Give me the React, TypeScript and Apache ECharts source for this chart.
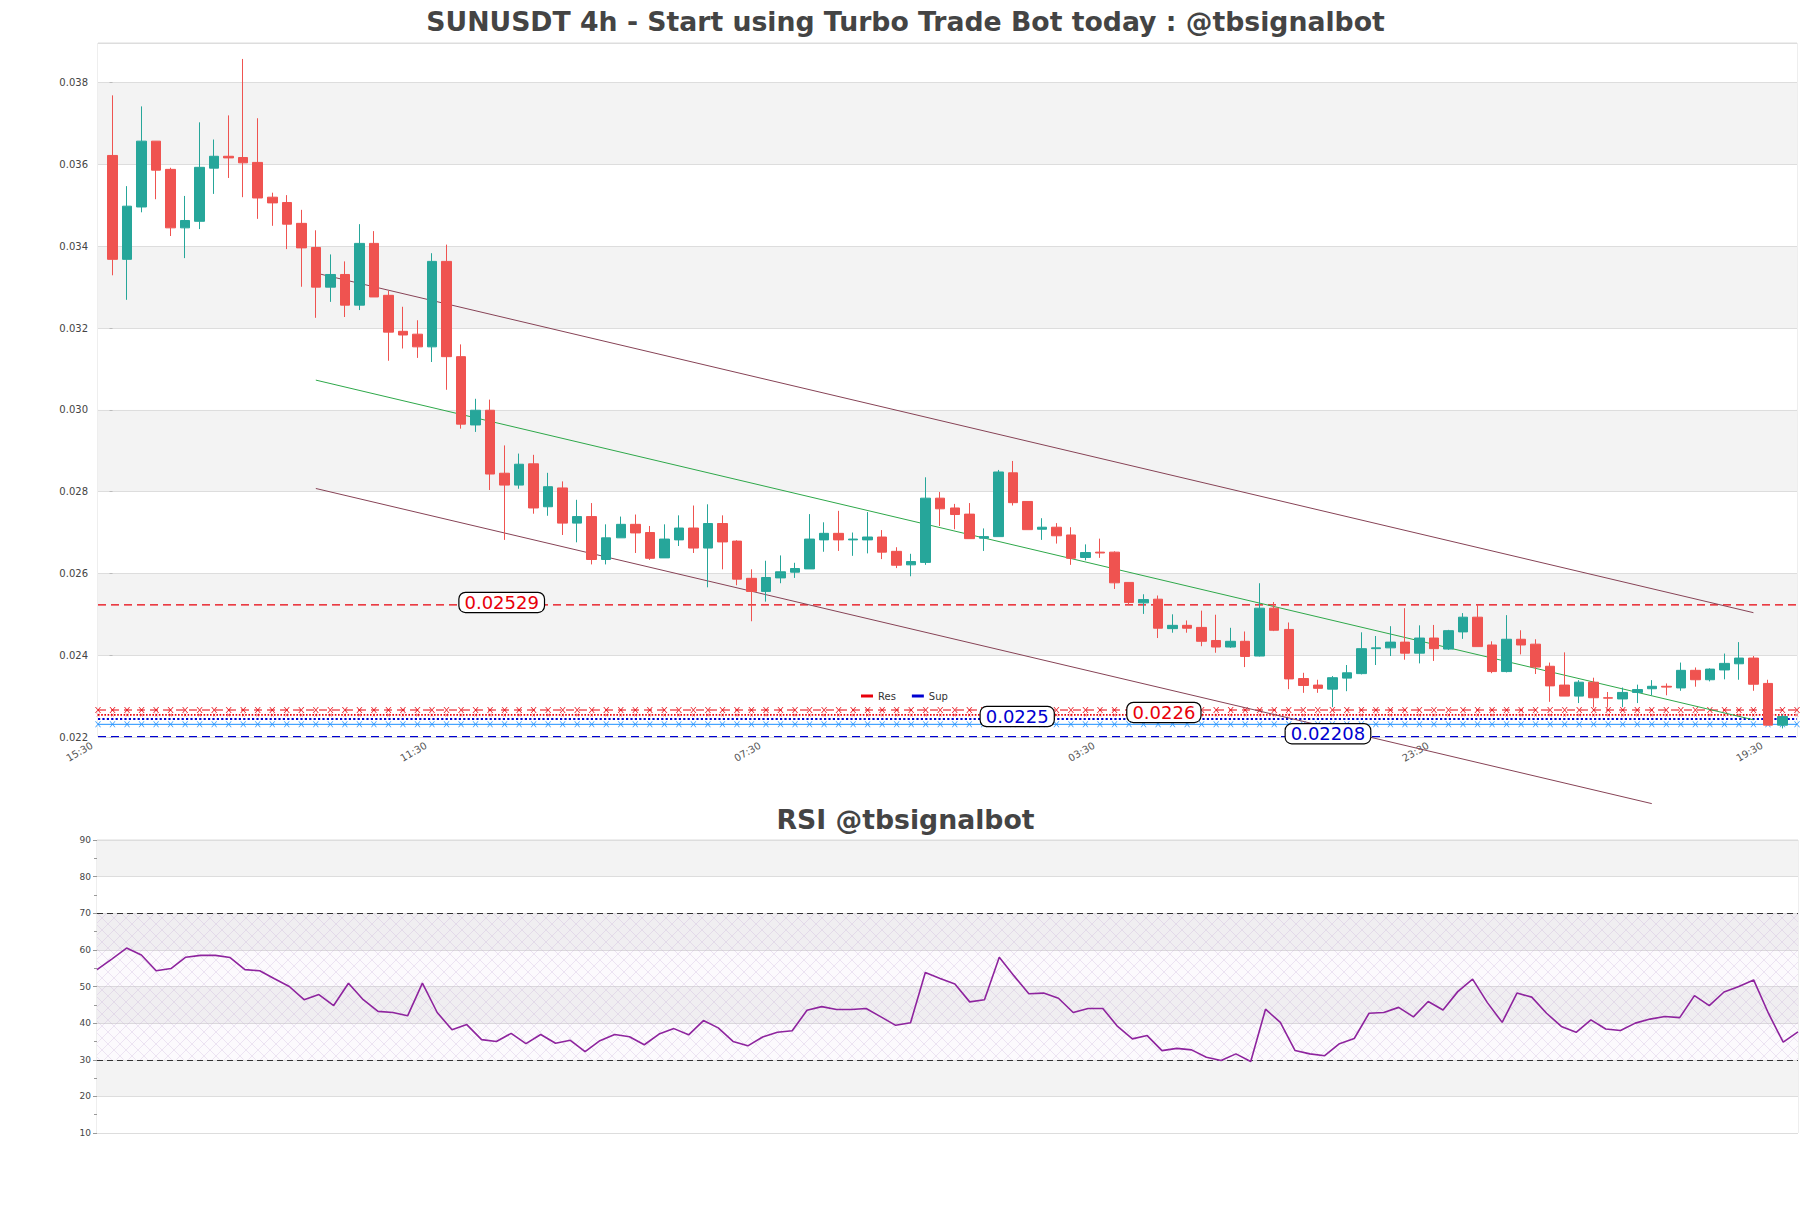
import React, { useEffect, useRef } from 'react';
import * as echarts from 'echarts';

const FONT = 'DejaVu Sans';

// ---- candle data (4h candles, index 0..115) ----
const opens = [
  0.03622, 0.03368, 0.03496, 0.03657, 0.03588, 0.03445, 0.03461, 0.03591, 0.0362, 0.03617,
  0.03605, 0.0352, 0.03507, 0.03456, 0.03397, 0.033, 0.03331, 0.03256, 0.03407, 0.0328,
  0.03192, 0.03185, 0.03154, 0.03363, 0.0313, 0.02963, 0.02999, 0.02845, 0.02816, 0.02868,
  0.02763, 0.02809, 0.02723, 0.02739, 0.02634, 0.02687, 0.0272, 0.027, 0.02638, 0.02682,
  0.02711, 0.02662, 0.02722, 0.02679, 0.02588, 0.02556, 0.02589, 0.02603, 0.02611, 0.02682,
  0.02698, 0.02682, 0.02682, 0.02689, 0.02654, 0.02621, 0.02627, 0.02784, 0.0276, 0.02745,
  0.02686, 0.0269, 0.02846, 0.02776, 0.02708, 0.02713, 0.02694, 0.02639, 0.02652, 0.02652,
  0.02578, 0.02528, 0.02537, 0.02465, 0.02473, 0.02468, 0.02436, 0.0242, 0.02434, 0.02398,
  0.02515, 0.02463, 0.02343, 0.02327, 0.02317, 0.02344, 0.02355, 0.02416, 0.02418, 0.02432,
  0.02405, 0.02442, 0.02415, 0.02457, 0.02493, 0.02425, 0.0236, 0.02439, 0.02427, 0.02373,
  0.02327, 0.023, 0.02334, 0.02296, 0.02293, 0.02309, 0.02318, 0.02324, 0.0232, 0.02363,
  0.0234, 0.02364, 0.02379, 0.02393, 0.02331, 0.02229,
];
const closes = [
  0.03368, 0.03498, 0.03657, 0.03586, 0.03445, 0.03463, 0.03593, 0.0362, 0.03616, 0.03604,
  0.03518, 0.03506, 0.03454, 0.03396, 0.033, 0.03331, 0.03256, 0.03407, 0.03276, 0.0319,
  0.03183, 0.03154, 0.03363, 0.0313, 0.02965, 0.02999, 0.02843, 0.02816, 0.02867, 0.0276,
  0.02812, 0.02723, 0.02739, 0.02634, 0.02687, 0.0272, 0.02699, 0.02637, 0.02684, 0.02711,
  0.02662, 0.02722, 0.02677, 0.02586, 0.02556, 0.0259, 0.02604, 0.02612, 0.02684, 0.02698,
  0.02682, 0.02684, 0.02689, 0.02652, 0.0262, 0.02629, 0.02784, 0.02758, 0.02744, 0.02685,
  0.0269, 0.02848, 0.02773, 0.02707, 0.02713, 0.02692, 0.02637, 0.02651, 0.0265, 0.02577,
  0.02529, 0.02536, 0.02466, 0.02473, 0.02466, 0.02434, 0.0242, 0.02434, 0.02397, 0.02515,
  0.02461, 0.02342, 0.02326, 0.02319, 0.02345, 0.02357, 0.02416, 0.02418, 0.02432, 0.02405,
  0.02442, 0.02416, 0.0246, 0.02493, 0.02421, 0.0236, 0.02439, 0.02425, 0.02371, 0.02325,
  0.023, 0.02334, 0.02296, 0.02295, 0.02309, 0.02316, 0.02324, 0.02322, 0.02363, 0.0234,
  0.02366, 0.0238, 0.02393, 0.02329, 0.02229, 0.0225,
];
const lows = [
  0.03329, 0.03269, 0.03483, 0.03515, 0.03425, 0.03371, 0.03442, 0.03528, 0.03567, 0.0352,
  0.03467, 0.0345, 0.03393, 0.03301, 0.03225, 0.03264, 0.03227, 0.03244, 0.03276, 0.0312,
  0.0315, 0.03127, 0.03117, 0.03049, 0.02954, 0.02946, 0.02804, 0.02682, 0.02807, 0.02746,
  0.02741, 0.02694, 0.02676, 0.02622, 0.02622, 0.02687, 0.0265, 0.02633, 0.02638, 0.02667,
  0.0265, 0.02566, 0.0261, 0.02571, 0.02483, 0.02531, 0.02576, 0.02589, 0.02611, 0.02653,
  0.02655, 0.02643, 0.02649, 0.02635, 0.02613, 0.02593, 0.02621, 0.02716, 0.02708, 0.02685,
  0.02655, 0.0269, 0.02766, 0.02707, 0.02682, 0.02673, 0.02621, 0.02632, 0.02638, 0.02562,
  0.02523, 0.02501, 0.02442, 0.02455, 0.02455, 0.02422, 0.02406, 0.02418, 0.02371, 0.02397,
  0.02459, 0.02317, 0.02308, 0.02308, 0.02273, 0.02312, 0.02353, 0.02376, 0.02398, 0.02389,
  0.0238, 0.02386, 0.02413, 0.0244, 0.02421, 0.02356, 0.02358, 0.02402, 0.02354, 0.02286,
  0.023, 0.02283, 0.02272, 0.02272, 0.02273, 0.02283, 0.02302, 0.02302, 0.02313, 0.02323,
  0.02336, 0.02341, 0.0234, 0.02313, 0.02229, 0.02221,
];
const highs = [
  0.03769, 0.03547, 0.03742, 0.03657, 0.03592, 0.03523, 0.03703, 0.03661, 0.0372, 0.03858,
  0.03713, 0.03531, 0.03525, 0.03489, 0.03439, 0.0338, 0.03363, 0.03454, 0.03437, 0.03291,
  0.03252, 0.03219, 0.03383, 0.03404, 0.0316, 0.03027, 0.03025, 0.02913, 0.02893, 0.0289,
  0.02846, 0.02825, 0.0278, 0.02772, 0.0272, 0.02739, 0.02744, 0.02716, 0.0272, 0.02742,
  0.02766, 0.02769, 0.02742, 0.02681, 0.0261, 0.02631, 0.02644, 0.02626, 0.02745, 0.02725,
  0.02753, 0.027, 0.0275, 0.02706, 0.02664, 0.02648, 0.02835, 0.02799, 0.0277, 0.02772,
  0.0271, 0.02853, 0.02875, 0.02776, 0.02735, 0.02723, 0.02713, 0.02671, 0.02685, 0.02654,
  0.02578, 0.02549, 0.02546, 0.025, 0.02485, 0.02509, 0.02499, 0.02467, 0.02458, 0.02576,
  0.0253, 0.0248, 0.02357, 0.0234, 0.02349, 0.02376, 0.02456, 0.02447, 0.02471, 0.02515,
  0.02473, 0.02474, 0.02462, 0.02503, 0.02524, 0.02434, 0.02498, 0.02461, 0.02439, 0.02382,
  0.02407, 0.02339, 0.02345, 0.0231, 0.02321, 0.02328, 0.02339, 0.02331, 0.02382, 0.0237,
  0.02368, 0.02404, 0.02432, 0.02398, 0.0234, 0.02255,
];

// ---- RSI values (one per candle) ----
const rsi = [
  54.6, 57.5, 60.5, 58.6, 54.3, 54.9, 58.0, 58.5, 58.5, 57.9,
  54.6, 54.3, 52.1, 50.0, 46.4, 47.8, 44.8, 50.9, 46.4, 43.2,
  42.9, 42.0, 50.9, 42.9, 38.2, 39.6, 35.5, 35.0, 37.2, 34.4,
  36.9, 34.5, 35.3, 32.2, 35.2, 36.9, 36.3, 34.1, 37.0, 38.5,
  36.8, 40.7, 38.7, 35.0, 33.8, 36.2, 37.5, 37.9, 43.5, 44.5,
  43.7, 43.7, 44.0, 41.7, 39.4, 40.1, 53.8, 52.2, 50.7, 45.8,
  46.4, 58.0, 52.9, 48.0, 48.2, 46.8, 42.9, 44.0, 44.0, 39.1,
  35.7, 36.6, 32.5, 33.1, 32.7, 30.7, 29.8, 31.6, 29.5, 43.8,
  40.2, 32.5, 31.6, 31.1, 34.4, 35.8, 42.7, 42.9, 44.3, 41.7,
  45.9, 43.6, 48.6, 52.0, 45.6, 40.2, 48.2, 47.1, 42.7, 39.1,
  37.5, 40.9, 38.4, 38.0, 40.0, 41.1, 41.8, 41.5, 47.5, 44.8,
  48.5, 50.0, 51.8, 42.7, 34.8, 37.6,
];

// ---- x ticks (axis spans candle index -1 .. 116) ----
const xTickLabels = ['15:30', '11:30', '07:30', '03:30', '23:30', '19:30'];
const xTickCandleIdx = [-1, 22, 45, 68, 91, 114];

// ---- trend channel (candle index, price) ----
const channelUpper = [[14, 0.033345], [113, 0.02504]];
const channelMid = [[14, 0.030727], [113, 0.02242]];
const channelLower = [[14, 0.028077], [106, 0.020371]];

// ---- support / resistance levels (as drawn) ----
const resMain = 0.02523;
const resNear = [0.02266, 0.02254];
const supNear = [0.02244, 0.02231];
const supMain = 0.02201;
const levelLabels = [
  { text: '0.02529', value: 0.02529, at: 26.8, kind: 'res' },
  { text: '0.0225', value: 0.0225, at: 62.3, kind: 'sup' },
  { text: '0.0226', value: 0.0226, at: 72.4, kind: 'res' },
  { text: '0.02208', value: 0.02208, at: 83.7, kind: 'sup' },
];

const RED = '#e8000b';
const BLUE = '#0000d0';
const LIGHTBLUE = '#1e90ff';
const UP = '#26a69a';
const DOWN = '#ef5350';

const N = opens.length;
const FIRST = -1;
const LAST = N; // 116
const catCount = LAST - FIRST + 1; // 118
const categories = Array.from({ length: catCount }, (_, p) => {
  const h = (15 + 4 * p) % 24;
  return `${String(h).padStart(2, '0')}:30`;
});
const tickCats = xTickCandleIdx.map((i) => i - FIRST);

const xMarker = 'path://M0,0L1.6,0L5,4.2L8.4,0L10,0L5.9,5L10,10L8.4,10L5,5.8L1.6,10L0,10L4.1,5Z';

function levelSeries(name: string, level: number, color: string, opts: any = {}) {
  const pts: number[][] = [];
  if (opts.markers) {
    pts.push([FIRST, level]);
    for (let i = 0; i < N; i++) pts.push([i, level]);
    pts.push([LAST, level]);
  } else {
    pts.push([FIRST, level], [LAST, level]);
  }
  return {
    name,
    type: 'line',
    xAxisIndex: 1,
    yAxisIndex: 0,
    data: pts,
    color,
    silent: true,
    symbol: opts.markers ? opts.symbol || xMarker : 'none',
    symbolSize: opts.symbolSize || 6,
    showAllSymbol: true,
    itemStyle: { color, opacity: opts.markerOpacity == null ? 1 : opts.markerOpacity },
    lineStyle: { color, width: opts.width || 1.2, type: opts.type || 'solid' },
    z: opts.z || 3,
  };
}

export default function App() {
  const ref = useRef<HTMLDivElement>(null);

  useEffect(() => {
    document.body.style.margin = '0';
    if (!ref.current) return;
    const chart = echarts.init(ref.current, undefined, { renderer: 'svg' });

    // hatch pattern for RSI 30..70 band
    const pc = document.createElement('canvas');
    pc.width = 12;
    pc.height = 12;
    const ctx = pc.getContext('2d');
    if (ctx) {
      ctx.fillStyle = 'rgba(150,100,190,0.03)';
      ctx.fillRect(0, 0, 12, 12);
      ctx.strokeStyle = 'rgba(190,160,210,0.45)';
      ctx.lineWidth = 0.6;
      ctx.beginPath();
      ctx.moveTo(0, 0);
      ctx.lineTo(12, 12);
      ctx.moveTo(12, 0);
      ctx.lineTo(0, 12);
      ctx.stroke();
    }
    const hatch = { image: pc.toDataURL(), repeat: 'repeat', imageWidth: 12, imageHeight: 12 };

    const candleRows = opens.map((o, i) => [i - FIRST, o, closes[i], lows[i], highs[i]]);

    const labelPoints = levelLabels.map((l) => ({
      coord: [l.at, l.value],
      label: {
        show: true,
        formatter: l.text,
        color: l.kind === 'res' ? RED : BLUE,
        fontSize: 18,
        fontFamily: FONT,
        backgroundColor: '#ffffff',
        borderColor: '#000000',
        borderWidth: 1.2,
        borderRadius: 6,
        padding: [0, 5],
        lineHeight: 19,
        position: 'inside',
      },
    }));

    const titleStyle = { fontSize: 26.7, fontWeight: 'bold', color: '#444', fontFamily: FONT };

    const option: any = {
      animation: false,
      backgroundColor: '#ffffff',
      textStyle: { fontFamily: FONT },
      title: [
        {
          text: 'SUNUSDT 4h - Start using Turbo Trade Bot today : @tbsignalbot',
          left: 'center',
          top: 8,
          padding: 0,
          textStyle: titleStyle,
        },
        {
          text: 'RSI @tbsignalbot',
          left: 'center',
          top: 806,
          padding: 0,
          textStyle: titleStyle,
        },
      ],
      legend: {
        data: ['Res', 'Sup'],
        left: 856,
        top: 686,
        icon: 'rect',
        itemWidth: 12,
        itemHeight: 3,
        itemGap: 16,
        textStyle: { fontSize: 10, color: '#333', fontFamily: FONT },
      },
      grid: [
        { left: 98, top: 43, width: 1699, height: 694, show: true, borderColor: '#dddddd', borderWidth: 1, backgroundColor: 'transparent' },
        { left: 97, top: 840, width: 1701, height: 293, show: true, borderColor: '#dddddd', borderWidth: 1, backgroundColor: 'transparent' },
      ],
      xAxis: [
        {
          type: 'category',
          gridIndex: 0,
          data: categories,
          boundaryGap: false,
          axisLine: { show: false },
          axisTick: { show: false },
          splitLine: { show: false },
          axisLabel: {
            interval: (i: number) => tickCats.includes(i),
            formatter: (v: string, i: number) => {
              const k = tickCats.indexOf(i);
              return k >= 0 ? xTickLabels[k] : v;
            },
            rotate: 30,
            fontSize: 10,
            color: '#555',
            fontFamily: FONT,
            margin: 4,
            padding: [0, 7, 0, 0],
          },
        },
        { type: 'value', gridIndex: 0, min: FIRST, max: LAST, show: false },
        {
          type: 'category',
          gridIndex: 1,
          data: rsi.map((_, i) => String(i)),
          boundaryGap: false,
          show: false,
        },
      ],
      yAxis: [
        {
          type: 'value',
          gridIndex: 0,
          min: 0.022,
          max: 0.03897,
          interval: 0.002,
          axisLine: { show: false },
          axisTick: { show: true, length: 3, lineStyle: { color: '#bbb' } },
          axisLabel: {
            formatter: (v: number) => v.toFixed(3),
            fontSize: 10,
            color: '#444',
            fontFamily: FONT,
            showMaxLabel: false,
            margin: 10,
          },
          splitLine: { lineStyle: { color: '#dddddd', width: 1 } },
          splitArea: { show: true, areaStyle: { color: ['#ffffff', '#f3f3f3'] } },
        },
        {
          type: 'value',
          gridIndex: 1,
          min: 10,
          max: 90,
          interval: 10,
          axisLine: { show: false },
          axisTick: { show: true, length: 4, lineStyle: { color: '#999' } },
          minorTick: { show: true, splitNumber: 2, length: 3, lineStyle: { color: '#999' } },
          axisLabel: { fontSize: 9, color: '#444', fontFamily: FONT, margin: 6 },
          splitLine: { lineStyle: { color: '#dddddd', width: 1 } },
          splitArea: { show: true, areaStyle: { color: ['#ffffff', '#f3f3f3'] } },
        },
      ],
      series: [
        {
          type: 'candlestick',
          xAxisIndex: 0,
          yAxisIndex: 0,
          data: candleRows,
          encode: { x: 0, y: [1, 2, 3, 4] },
          barWidth: 10,
          itemStyle: { color: UP, color0: DOWN, borderColor: UP, borderColor0: DOWN, borderWidth: 1 },
          z: 5,
        },
        {
          type: 'line', xAxisIndex: 1, yAxisIndex: 0, data: channelUpper, symbol: 'none', silent: true,
          lineStyle: { color: '#874356', width: 1 }, z: 4,
        },
        {
          type: 'line', xAxisIndex: 1, yAxisIndex: 0, data: channelMid, symbol: 'none', silent: true,
          lineStyle: { color: '#2ea84a', width: 1 }, z: 4,
        },
        {
          type: 'line', xAxisIndex: 1, yAxisIndex: 0, data: channelLower, symbol: 'none', silent: true, clip: false,
          lineStyle: { color: '#874356', width: 1 }, z: 4,
        },
        levelSeries('Res', resMain, RED, { type: [8, 5], width: 1.3 }),
        levelSeries('Res', resNear[0], RED, { markers: true, type: [8, 5], width: 1.2, symbolSize: 6, markerOpacity: 0.9 }),
        levelSeries('Res', resNear[1], RED, { markers: true, type: 'dotted', width: 1.6, symbolSize: 3 }),
        levelSeries('Sup', supNear[0], BLUE, { type: 'dotted', width: 2.2 }),
        levelSeries('Sup', supNear[1], LIGHTBLUE, { markers: true, width: 1, symbolSize: 6, markerOpacity: 0.9 }),
        {
          ...levelSeries('Sup', supMain, BLUE, { type: [8, 5], width: 1.3 }),
          markPoint: {
            symbol: 'rect',
            symbolSize: 1,
            itemStyle: { color: 'rgba(0,0,0,0)' },
            data: labelPoints,
            z: 10,
          },
          z: 9,
        },
        {
          type: 'line',
          xAxisIndex: 2,
          yAxisIndex: 1,
          data: rsi,
          symbol: 'none',
          silent: true,
          lineStyle: { color: '#8e249e', width: 1.6 },
          z: 5,
          markLine: {
            silent: true,
            symbol: 'none',
            label: { show: false },
            lineStyle: { color: '#333', type: [6, 4], width: 1.2 },
            data: [{ yAxis: 70 }, { yAxis: 30 }],
          },
          markArea: {
            silent: true,
            itemStyle: { color: hatch },
            data: [[{ yAxis: 30 }, { yAxis: 70 }]],
          },
        },
      ],
    };

    chart.setOption(option);
    return () => chart.dispose();
  }, []);

  return <div ref={ref} style={{ width: 1811, height: 1208 }} />;
}
